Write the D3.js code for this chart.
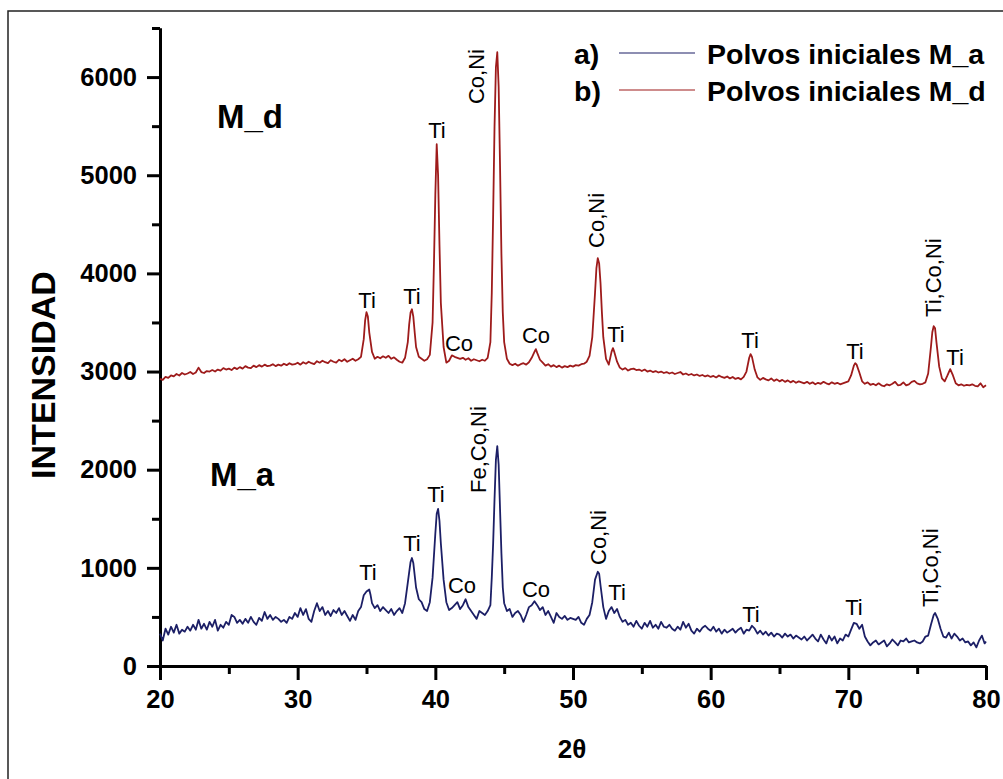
<!DOCTYPE html>
<html>
<head>
<meta charset="utf-8">
<script src="https://cdn.jsdelivr.net/npm/d3@7"></script>
<style>
  body { margin: 0; background: #fff; }
  text { font-family: "Liberation Sans", Arial, sans-serif; }
</style>
</head>
<body>
<div id="chart"></div>
<script>
// patrones DRX, [2theta, intensidad]
const polvosMa = [
  [20.0,330],[20.2,260],[20.4,380],[20.6,320],[20.8,400],[21.0,340],[21.2,420],[21.4,330],[21.6,370],[21.8,350],
  [22.0,400],[22.2,360],[22.4,420],[22.6,370],[22.8,470],[23.0,380],[23.2,430],[23.4,370],[23.6,450],[23.8,400],
  [24.0,470],[24.2,360],[24.4,420],[24.6,390],[24.8,450],[25.0,420],[25.2,520],[25.4,500],[25.6,440],[25.8,470],
  [26.0,430],[26.2,480],[26.4,440],[26.6,500],[26.8,450],[27.0,420],[27.2,490],[27.4,460],[27.6,550],[27.8,480],
  [28.0,520],[28.2,470],[28.4,500],[28.6,480],[28.8,450],[29.0,470],[29.2,440],[29.4,500],[29.6,480],[29.8,540],
  [30.0,500],[30.2,590],[30.4,520],[30.6,580],[30.8,480],[31.0,450],[31.2,560],[31.4,640],[31.6,560],[31.8,600],
  [32.0,520],[32.2,560],[32.4,510],[32.6,570],[32.8,540],[33.0,590],[33.2,520],[33.4,560],[33.6,510],[33.8,460],
  [34.0,520],[34.2,470],[34.4,560],[34.6,600],[34.8,720],[35.0,760],[35.2,780],[35.3,720],[35.4,640],[35.6,590],
  [35.8,620],[36.0,560],[36.2,600],[36.4,570],[36.6,540],[36.8,580],[37.0,520],[37.2,560],[37.4,590],[37.6,540],
  [37.8,640],[38.0,850],[38.2,1060],[38.3,1100],[38.4,1050],[38.6,800],[38.8,680],[39.0,650],[39.2,580],[39.4,560],
  [39.6,650],[39.8,900],[40.0,1350],[40.1,1550],[40.2,1600],[40.3,1480],[40.4,1250],[40.6,880],[40.8,650],[41.0,570],
  [41.2,590],[41.4,620],[41.6,650],[41.8,580],[42.0,620],[42.2,680],[42.4,600],[42.6,560],[42.8,520],[43.0,480],
  [43.2,560],[43.4,540],[43.6,520],[43.8,560],[44.0,620],[44.1,900],[44.2,1250],[44.3,1700],[44.4,2100],[44.5,2240],
  [44.6,2050],[44.7,1600],[44.8,1150],[44.9,800],[45.0,640],[45.2,560],[45.4,580],[45.6,500],[45.8,540],[46.0,560],
  [46.2,520],[46.4,450],[46.6,520],[46.8,600],[47.0,620],[47.2,660],[47.4,620],[47.6,570],[47.8,600],[48.0,520],
  [48.2,560],[48.4,500],[48.6,440],[48.8,540],[49.0,500],[49.2,480],[49.4,510],[49.6,470],[49.8,490],[50.0,480],
  [50.2,470],[50.4,500],[50.6,440],[50.8,420],[51.0,480],[51.2,520],[51.4,650],[51.6,880],[51.8,960],[51.9,940],
  [52.0,820],[52.2,600],[52.4,480],[52.6,560],[52.8,600],[53.0,540],[53.2,580],[53.4,500],[53.6,450],[53.8,470],
  [54.0,420],[54.2,440],[54.4,400],[54.6,460],[54.8,410],[55.0,380],[55.2,440],[55.4,400],[55.6,460],[55.8,390],
  [56.0,420],[56.2,380],[56.4,450],[56.6,400],[56.8,390],[57.0,420],[57.2,380],[57.4,360],[57.6,400],[57.8,370],
  [58.0,450],[58.2,390],[58.4,430],[58.6,360],[58.8,330],[59.0,380],[59.2,350],[59.4,390],[59.6,410],[59.8,380],
  [60.0,360],[60.2,400],[60.4,350],[60.6,380],[60.8,330],[61.0,370],[61.2,340],[61.4,360],[61.6,380],[61.8,340],
  [62.0,370],[62.2,390],[62.4,330],[62.6,370],[62.8,360],[63.0,410],[63.2,380],[63.4,330],[63.6,360],[63.8,320],
  [64.0,350],[64.2,310],[64.4,340],[64.6,300],[64.8,330],[65.0,320],[65.2,290],[65.4,330],[65.6,300],[65.8,320],
  [66.0,280],[66.2,310],[66.4,290],[66.6,270],[66.8,300],[67.0,260],[67.2,290],[67.4,320],[67.6,280],[67.8,250],
  [68.0,320],[68.2,270],[68.4,230],[68.6,310],[68.8,260],[69.0,300],[69.2,230],[69.4,280],[69.6,260],[69.8,320],
  [70.0,300],[70.2,370],[70.4,440],[70.6,430],[70.8,380],[71.0,420],[71.2,300],[71.4,250],[71.6,210],[71.8,240],
  [72.0,260],[72.2,220],[72.4,240],[72.6,260],[72.8,200],[73.0,230],[73.2,270],[73.4,240],[73.6,210],[73.8,260],
  [74.0,250],[74.2,280],[74.4,240],[74.6,250],[74.8,260],[75.0,240],[75.2,230],[75.4,250],[75.6,300],[75.8,310],
  [76.0,420],[76.2,520],[76.3,540],[76.5,480],[76.7,380],[76.9,300],[77.1,290],[77.3,340],[77.5,280],[77.7,330],
  [77.9,300],[78.1,260],[78.3,280],[78.5,240],[78.7,250],[78.9,210],[79.1,240],[79.3,190],[79.5,260],[79.7,310],
  [79.9,230],[80.0,250]
];

const polvosMd = [
  [20.0,2925],[20.2,2915],[20.4,2945],[20.6,2935],[20.8,2960],[21.0,2950],[21.2,2975],[21.4,2960],[21.6,2985],[21.8,2970],
  [22.0,2980],[22.2,2995],[22.4,2975],[22.6,2990],[22.8,3040],[23.0,2995],[23.2,2985],[23.4,3005],[23.6,3000],[23.8,3015],
  [24.0,3000],[24.2,3020],[24.4,3010],[24.6,3035],[24.8,3020],[25.0,3030],[25.2,3015],[25.4,3040],[25.6,3025],[25.8,3045],
  [26.0,3030],[26.2,3055],[26.4,3040],[26.6,3035],[26.8,3060],[27.0,3045],[27.2,3065],[27.4,3050],[27.6,3070],[27.8,3055],
  [28.0,3060],[28.2,3075],[28.4,3055],[28.6,3070],[28.8,3060],[29.0,3080],[29.2,3065],[29.4,3085],[29.6,3070],[29.8,3075],
  [30.0,3090],[30.2,3070],[30.4,3095],[30.6,3080],[30.8,3100],[31.0,3085],[31.2,3075],[31.4,3105],[31.6,3090],[31.8,3110],
  [32.0,3095],[32.2,3085],[32.4,3115],[32.6,3100],[32.8,3090],[33.0,3120],[33.2,3105],[33.4,3125],[33.6,3100],[33.8,3115],
  [34.0,3130],[34.2,3110],[34.4,3125],[34.6,3150],[34.8,3330],[34.9,3520],[35.0,3605],[35.1,3560],[35.2,3400],[35.4,3200],
  [35.6,3130],[35.8,3150],[36.0,3135],[36.2,3155],[36.4,3140],[36.6,3160],[36.8,3130],[37.0,3145],[37.2,3120],[37.4,3100],
  [37.6,3090],[37.8,3140],[38.0,3300],[38.1,3480],[38.2,3600],[38.3,3635],[38.4,3560],[38.5,3400],[38.6,3250],[38.8,3150],
  [39.0,3130],[39.2,3110],[39.4,3125],[39.6,3170],[39.8,3500],[39.9,4100],[40.0,4800],[40.1,5316],[40.2,5000],[40.3,4300],
  [40.4,3700],[40.6,3250],[40.8,3090],[41.0,3110],[41.2,3165],[41.4,3150],[41.6,3140],[41.8,3130],[42.0,3140],[42.2,3120],
  [42.4,3135],[42.6,3110],[42.8,3125],[43.0,3115],[43.2,3105],[43.4,3120],[43.6,3110],[43.8,3140],[44.0,3300],[44.1,3800],
  [44.2,4600],[44.3,5500],[44.4,6100],[44.5,6253],[44.6,5900],[44.7,5100],[44.8,4200],[44.9,3600],[45.0,3300],[45.2,3130],
  [45.4,3080],[45.6,3065],[45.8,3080],[46.0,3060],[46.2,3075],[46.4,3085],[46.6,3070],[46.8,3095],[47.0,3140],[47.2,3200],
  [47.3,3228],[47.4,3190],[47.6,3120],[47.8,3090],[48.0,3060],[48.2,3075],[48.4,3050],[48.6,3065],[48.8,3045],[49.0,3060],
  [49.2,3040],[49.4,3055],[49.6,3045],[49.8,3060],[50.0,3050],[50.2,3065],[50.4,3060],[50.6,3075],[50.8,3080],[51.0,3100],
  [51.2,3160],[51.4,3350],[51.6,3800],[51.7,4050],[51.8,4155],[51.9,4100],[52.0,3900],[52.1,3600],[52.2,3350],[52.4,3130],
  [52.6,3070],[52.8,3200],[52.9,3238],[53.0,3200],[53.2,3100],[53.4,3040],[53.6,3020],[53.8,3035],[54.0,3010],[54.2,3025],
  [54.4,3030],[54.6,3015],[54.8,3020],[55.0,3005],[55.2,3020],[55.4,3000],[55.6,3010],[55.8,2995],[56.0,3005],[56.2,2990],
  [56.4,3000],[56.6,2985],[56.8,2995],[57.0,2980],[57.2,2990],[57.4,2975],[57.6,2985],[57.8,2995],[58.0,2970],[58.2,2980],
  [58.4,2965],[58.6,2975],[58.8,2960],[59.0,2970],[59.2,2955],[59.4,2965],[59.6,2950],[59.8,2960],[60.0,2945],[60.2,2955],
  [60.4,2940],[60.6,2960],[60.8,2945],[61.0,2935],[61.2,2950],[61.4,2930],[61.6,2945],[61.8,2925],[62.0,2935],[62.2,2920],
  [62.4,2945],[62.6,3000],[62.8,3140],[62.9,3177],[63.0,3150],[63.2,3020],[63.4,2940],[63.6,2915],[63.8,2935],[64.0,2920],
  [64.2,2910],[64.4,2930],[64.6,2905],[64.8,2920],[65.0,2900],[65.2,2915],[65.4,2895],[65.6,2910],[65.8,2890],[66.0,2905],
  [66.2,2885],[66.4,2900],[66.6,2890],[66.8,2880],[67.0,2895],[67.2,2875],[67.4,2890],[67.6,2870],[67.8,2885],[68.0,2875],
  [68.2,2895],[68.4,2880],[68.6,2870],[68.8,2890],[69.0,2875],[69.2,2885],[69.4,2870],[69.6,2880],[69.8,2890],[70.0,2900],
  [70.2,2960],[70.4,3060],[70.5,3085],[70.6,3070],[70.8,2990],[71.0,2900],[71.2,2875],[71.4,2890],[71.6,2865],[71.8,2875],
  [72.0,2860],[72.2,2880],[72.4,2860],[72.6,2850],[72.8,2870],[73.0,2860],[73.2,2875],[73.4,2895],[73.6,2860],[73.8,2865],
  [74.0,2890],[74.2,2860],[74.4,2870],[74.6,2895],[74.8,2905],[75.0,2880],[75.2,2870],[75.4,2875],[75.6,2890],[75.8,2980],
  [76.0,3250],[76.1,3400],[76.2,3462],[76.3,3440],[76.4,3300],[76.6,3050],[76.8,2930],[77.0,2900],[77.2,2960],[77.4,3024],
  [77.6,2960],[77.8,2880],[78.0,2860],[78.2,2870],[78.4,2855],[78.6,2865],[78.8,2860],[79.0,2870],[79.2,2855],[79.4,2850],
  [79.6,2880],[79.8,2840],[80.0,2860]
];

const xTicksMajor = [20, 30, 40, 50, 60, 70, 80];
const xTicksMinor = [25, 35, 45, 55, 65, 75];
const yTicksMajor = [0, 1000, 2000, 3000, 4000, 5000, 6000];
const yTicksMinor = [500, 1500, 2500, 3500, 4500, 5500, 6500];

const seriesNames = ['Polvos iniciales M_a', 'Polvos iniciales M_d'];
const seriesTags = ['a)', 'b)'];

// etiquetas de picos: 2theta del centro, intensidad de la base del texto
const labelsMd = [
  { t: 'Ti', x: 35.04, y: 3647 }, { t: 'Ti', x: 38.30, y: 3688 }, { t: 'Ti', x: 40.12, y: 5379 },
  { t: 'Co', x: 41.72, y: 3209 }, { t: 'Co,Ni', x: 42.95, y: 5725, rot: true }, { t: 'Co', x: 47.31, y: 3291 },
  { t: 'Co,Ni', x: 51.67, y: 4259, rot: true }, { t: 'Ti', x: 53.12, y: 3301 }, { t: 'Ti', x: 62.86, y: 3240 },
  { t: 'Ti', x: 70.48, y: 3128 }, { t: 'Ti,Co,Ni', x: 76.15, y: 3556, rot: true }, { t: 'Ti', x: 77.75, y: 3067 }
];
const labelsMa = [
  { t: 'Ti', x: 35.11, y: 876 }, { t: 'Ti', x: 38.30, y: 1172 }, { t: 'Ti', x: 40.05, y: 1671 },
  { t: 'Co', x: 41.94, y: 744 }, { t: 'Fe,Co,Ni', x: 43.10, y: 1763, rot: true }, { t: 'Co', x: 47.31, y: 703 },
  { t: 'Co,Ni', x: 51.82, y: 1029, rot: true }, { t: 'Ti', x: 53.20, y: 672 }, { t: 'Ti', x: 62.93, y: 448 },
  { t: 'Ti', x: 70.41, y: 520 }, { t: 'Ti,Co,Ni', x: 75.93, y: 601, rot: true }
];
const sampleLabels = [
  { t: 'M_d', x: 24.14, y: 5481 },
  { t: 'M_a', x: 23.63, y: 1834 }
];

const colorMa = '#1c1f66';
const colorMd = '#9e1b1b';

const W = 1003, H = 779;
const svg = d3.select('#chart').append('svg')
  .attr('width', W)
  .attr('height', H);

// marco exterior (solo se ven lados izq. y sup.)
svg.append('rect')
  .attr('x', 8).attr('y', 11)
  .attr('width', 1100).attr('height', 1000)
  .attr('fill', 'none')
  .attr('stroke', '#222')
  .attr('stroke-width', 1.5);

const x = d3.scaleLinear().domain([20, 80]).range([160, 986]);
const y = d3.scaleLinear().domain([0, 6500]).range([666, 28]);

const line = d3.line()
  .x(d => x(d[0]))
  .y(d => y(d[1]));

// ejes
const styleAxis = g => {
  g.select('.domain').attr('stroke', '#000').attr('stroke-width', 3);
  g.selectAll('.tick line').attr('stroke', '#000').attr('stroke-width', 3);
  g.selectAll('.tick text')
    .attr('fill', '#000')
    .style('font-family', '"Liberation Sans", Arial, sans-serif')
    .style('font-weight', 'bold')
    .style('font-size', '25.5px');
};

svg.append('g')
  .attr('transform', 'translate(0,666)')
  .call(d3.axisBottom(x).tickValues(xTicksMinor).tickSize(8).tickSizeOuter(0).tickFormat(''))
  .call(styleAxis);
svg.append('g')
  .attr('transform', 'translate(0,666)')
  .call(d3.axisBottom(x).tickValues(xTicksMajor).tickSize(14).tickSizeOuter(0).tickPadding(10).tickFormat(d3.format('d')))
  .call(styleAxis);

svg.append('g')
  .attr('transform', 'translate(160,0)')
  .call(d3.axisLeft(y).tickValues(yTicksMinor).tickSize(8).tickSizeOuter(0).tickFormat(''))
  .call(styleAxis);
svg.append('g')
  .attr('transform', 'translate(160,0)')
  .call(d3.axisLeft(y).tickValues(yTicksMajor).tickSize(13).tickSizeOuter(0).tickPadding(10).tickFormat(d3.format('d')))
  .call(styleAxis);

// titulos de ejes
svg.append('text')
  .attr('transform', 'translate(55,375) rotate(-90)')
  .attr('text-anchor', 'middle')
  .style('font-weight', 'bold')
  .style('font-size', '34px')
  .text('INTENSIDAD');

svg.append('text')
  .attr('x', 572).attr('y', 758)
  .attr('text-anchor', 'middle')
  .style('font-weight', 'bold')
  .style('font-size', '26px')
  .text('2θ');

// curvas
svg.append('path')
  .datum(polvosMa)
  .attr('fill', 'none')
  .attr('stroke', colorMa)
  .attr('stroke-width', 1.8)
  .attr('stroke-linejoin', 'round')
  .attr('d', line);

svg.append('path')
  .datum(polvosMd)
  .attr('fill', 'none')
  .attr('stroke', colorMd)
  .attr('stroke-width', 1.8)
  .attr('stroke-linejoin', 'round')
  .attr('d', line);

// etiquetas de picos
function drawLabels(labels) {
  labels.forEach(l => {
    const t = svg.append('text')
      .style('font-size', '22px')
      .attr('fill', '#000')
      .text(l.t);
    if (l.rot) {
      t.attr('transform', `translate(${x(l.x) + 8},${y(l.y)}) rotate(-90)`)
        .attr('text-anchor', 'start');
    } else {
      t.attr('x', x(l.x)).attr('y', y(l.y)).attr('text-anchor', 'middle');
    }
  });
}
drawLabels(labelsMd);
drawLabels(labelsMa);

svg.selectAll('.sample')
  .data(sampleLabels)
  .enter().append('text')
  .attr('class', 'sample')
  .attr('x', d => x(d.x))
  .attr('y', d => y(d.y))
  .style('font-weight', 'bold')
  .style('font-size', '33px')
  .text(d => d.t);

// leyenda
const legend = svg.selectAll('.legend')
  .data([colorMa, colorMd])
  .enter().append('g')
  .attr('class', 'legend')
  .attr('transform', (d, i) => `translate(0, ${64 + i * 37})`);

legend.append('text')
  .attr('x', 574)
  .style('font-weight', 'bold')
  .style('font-size', '28.5px')
  .text((d, i) => seriesTags[i]);

legend.append('line')
  .attr('x1', 619).attr('x2', 695)
  .attr('y1', -11).attr('y2', -11)
  .attr('stroke', d => d)
  .attr('stroke-width', 1.2);

legend.append('text')
  .attr('x', 707)
  .style('font-weight', 'bold')
  .style('font-size', '28.5px')
  .text((d, i) => seriesNames[i]);
</script>
</body>
</html>
